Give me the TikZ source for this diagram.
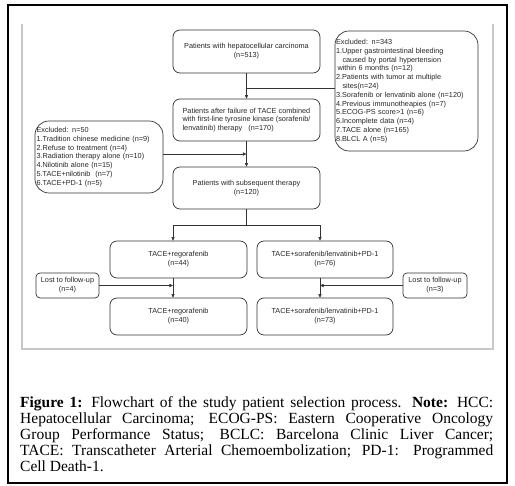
\documentclass[tikz,border=0pt]{standalone}
\usepackage{fontspec}
\setmainfont{Liberation Serif}
\newfontfamily\arialf{Liberation Sans}
\usetikzlibrary{arrows.meta,calc}
\definecolor{lc}{HTML}{333333}
\definecolor{tc}{HTML}{262626}
\definecolor{fr}{HTML}{C8C8C8}
\begin{document}
\begin{tikzpicture}[x=1pt, y={(0pt,-1pt)},
  fbox/.style={draw=lc, line width=0.7pt, rounded corners=7pt, inner sep=0pt,
    font=\arialf\fontsize{7.3}{8.8}\selectfont, text=tc, align=center},
  exbox/.style={fbox, rounded corners=14pt, align=left},
  lostbox/.style={fbox, rounded corners=4pt},
  ln/.style={draw=lc, line width=0.7pt},
  arr/.style={ln, -{Triangle[length=3.6pt,width=3.2pt]}}]
\useasboundingbox (0,0) rectangle (515,486);
% frames
\draw[line width=1.2pt, black] (8,5) rectangle (507,483);
\draw[line width=1.5pt, fr] (22,24) -- (22,349) -- (493,349) -- (493,24);
% nodes
\node[fbox, minimum width=147pt, minimum height=43pt] (b1) at (246.5,51.5)
  {Patients with hepatocellular carcinoma\\(n=513)};
\node[exbox, minimum width=143pt, minimum height=120pt, text width=141pt, inner xsep=1pt] (ex1) at (406.5,91)
  {Excluded: n=343\\
   1.Upper gastrointestinal bleeding\\
   \hspace*{6.5pt}caused by portal hypertension\\
   \hspace*{1.5pt}within 6 months (n=12)\\
   2.Patients with tumor at multiple\\
   \hspace*{6.5pt}sites(n=24)\\
   3.Sorafenib or lenvatinib alone (n=120)\\
   4.Previous immunotheapies (n=7)\\
   5.ECOG-PS score>1 (n=6)\\
   6.Incomplete data (n=4)\\
   7.TACE alone (n=165)\\
   8.BLCL A (n=5)};
\node[fbox, align=left, minimum width=147pt, minimum height=42pt] (b2) at (246.5,120)
  {Patients after failure of TACE combined\\
   with first-line tyrosine kinase (sorafenib/\\
   lenvatinib) therapy\ \ \ (n=170)};
\node[exbox, minimum width=128pt, minimum height=72pt, text width=125pt, inner xsep=1.5pt] (ex2) at (99,157)
  {Excluded: n=50\\
   1.Tradition chinese medicine (n=9)\\
   2.Refuse to treatment (n=4)\\
   3.Radiation therapy alone (n=10)\\
   4.Nilotinib alone (n=15)\\
   5.TACE+nilotinib\ \ (n=7)\\
   6.TACE+PD-1 (n=5)};
\node[fbox, minimum width=147pt, minimum height=42pt] (b3) at (246.5,188)
  {Patients with subsequent therapy\\(n=120)};
\node[fbox, minimum width=137pt, minimum height=37pt] (b4) at (178.5,259.5)
  {TACE+regorafenib\\(n=44)};
\node[fbox, minimum width=136pt, minimum height=37pt] (b5) at (325,259.5)
  {TACE+sorafenib/lenvatinib+PD-1\\(n=76)};
\node[lostbox, minimum width=63pt, minimum height=25pt] (l1) at (67.5,285.5)
  {Lost to follow-up\\(n=4)};
\node[lostbox, minimum width=64pt, minimum height=25pt] (l2) at (435,285.5)
  {Lost to follow-up\\(n=3)};
\node[fbox, minimum width=137pt, minimum height=37pt] (b6) at (178.5,316.5)
  {TACE+regorafenib\\(n=40)};
\node[fbox, minimum width=136pt, minimum height=37pt] (b7) at (325,316.5)
  {TACE+sorafenib/lenvatinib+PD-1\\(n=73)};
% connectors
\coordinate (j1) at (246.5,88);
\coordinate (j2) at (246.5,154);
\coordinate (j3) at (246.5,225);
\coordinate (s4) at (173,225);
\coordinate (s5) at (320,225);
\draw[arr] (b1.south) -- (b2.north);
\draw[ln] (j1) -- (j1 -| ex1.west);
\draw[arr] (b2.south) -- (b3.north);
\draw[arr] (j2 -| ex2.east) -- (j2);
\draw[ln] (b3.south) -- (j3);
\draw[arr] (j3) -- (s4) -- (s4 |- b4.north);
\draw[arr] (j3) -- (s5) -- (s5 |- b5.north);
\draw[arr] (s4 |- b4.south) -- (s4 |- b6.north);
\draw[arr] (s5 |- b5.south) -- (s5 |- b7.north);
\draw[arr] (l1.east) -- (l1.east -| s4);
\draw[arr] (l2.west) -- (l2.west -| s5);
% caption
\node[anchor=north west, inner sep=0pt, align=left, font=\fontsize{15.5}{16}\selectfont] (cap) at (20,396.5)
  {\makebox[473pt][s]{\textbf{Figure 1:} Flowchart of the study patient selection process. \textbf{Note:} HCC:}\\
   \makebox[473pt][s]{Hepatocellular Carcinoma; ECOG-PS: Eastern Cooperative Oncology}\\
   \makebox[473pt][s]{Group Performance Status; BCLC: Barcelona Clinic Liver Cancer;}\\
   \makebox[473pt][s]{TACE: Transcatheter Arterial Chemoembolization; PD-1: Programmed}\\
   Cell Death-1.};
\end{tikzpicture}
\end{document}
